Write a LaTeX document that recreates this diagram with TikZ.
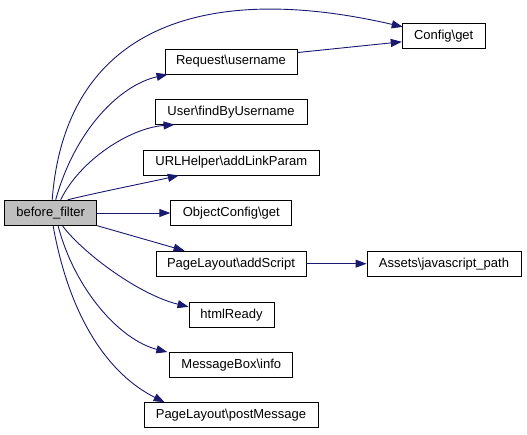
\documentclass[tikz,border=0pt]{standalone}
\usepackage{fontspec}
\setmainfont{Liberation Sans}
\usetikzlibrary{arrows.meta,calc}
\definecolor{edgecol}{HTML}{191970}
\definecolor{rootfill}{HTML}{BFBFBF}
\tikzset{
  fn/.style={draw=black,line width=0.9pt,fill=white,inner sep=0pt,minimum height=25pt,
    font=\fontsize{13}{15}\selectfont},
  root/.style={fn,fill=rootfill},
  call/.style={draw=edgecol,line width=0.9pt,-{Triangle[length=11pt,width=8pt]}}
}
\begin{document}
\begin{tikzpicture}[x=1pt,y=-1pt]
\useasboundingbox (0,0) rectangle (527,435);
\node[root,minimum width=92pt,minimum height=25.5pt] (bf) at (50.7,213) {before\_filter};
\node[fn,minimum width=83pt] (cfg) at (443.7,35.8) {Config\textbackslash get};
\node[fn,minimum width=132pt] (req) at (231,61.5) {Request\textbackslash username};
\node[fn,minimum width=152pt] (usr) at (231,111.7) {User\textbackslash findByUsername};
\node[fn,minimum width=176pt] (url) at (231.3,162.5) {URLHelper\textbackslash addLinkParam};
\node[fn,minimum width=121pt] (oc) at (231.3,213) {ObjectConfig\textbackslash get};
\node[fn,minimum width=150pt] (pla) at (231,263.7) {PageLayout\textbackslash addScript};
\node[fn,minimum width=154pt] (asp) at (444,263.7) {Assets\textbackslash javascript\_path};
\node[fn,minimum width=85pt] (html) at (231.5,314.8) {htmlReady};
\node[fn,minimum width=123pt] (mb) at (231.3,365) {MessageBox\textbackslash info};
\node[fn,minimum width=174pt] (pm) at (231,415.2) {PageLayout\textbackslash postMessage};

% edges from before_filter
\draw[call] ($(bf.north)+(1.5,0)$) .. controls (65,30) and (200,-20) .. ($(cfg.north west)+(1,4)$);
\draw[call] ($(bf.north)+(5,0)$) .. controls (75,130) and (120,85) .. ($(req.south west)+(3,0)$);
\draw[call] ($(bf.north)+(10,0)$) .. controls (80,160) and (130,128) .. ($(usr.south west)+(20,0)$);
\draw[call] ($(bf.north)+(17,0)$) .. controls (95,193) and (150,182) .. ($(url.south west)+(36,0)$);
\draw[call] (bf.east) -- (oc.west);
\draw[call] ($(bf.south east)+(0,-0.5)$) -- ($(pla.north west)+(29,0)$);
\draw[call] ($(bf.south)+(12,0)$) .. controls (85,255) and (140,295) .. ($(html.west)+(0,-8)$);
\draw[call] ($(bf.south)+(7.5,0)$) .. controls (75,290) and (120,340) .. ($(mb.north west)+(-2,0)$);
\draw[call] ($(bf.south)+(2.5,0)$) .. controls (70,320) and (110,375) .. ($(pm.north west)+(21,0)$);
% other edges
\draw[call] (pla.east) -- (asp.west);
\draw[call] ($(req.north east)+(0,4)$) -- ($(cfg.west)+(0,6)$);
\end{tikzpicture}
\end{document}
